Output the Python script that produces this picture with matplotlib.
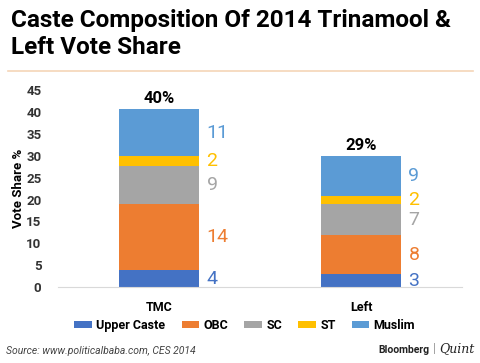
import matplotlib
matplotlib.use("Agg")
import matplotlib.pyplot as plt
from matplotlib.patches import Patch
from matplotlib.lines import Line2D

categories = ["TMC", "Left"]
groups = ["Upper Caste", "OBC", "SC", "ST", "Muslim"]
# bar heights as drawn
values = {
    "Upper Caste": [3.9, 3.0],
    "OBC": [15.1, 8.9],
    "SC": [8.6, 7.0],
    "ST": [2.3, 1.9],
    "Muslim": [10.7, 9.1],
}
# printed labels
labels = {
    "Upper Caste": ["4", "3"],
    "OBC": ["14", "8"],
    "SC": ["9", "7"],
    "ST": ["2", "2"],
    "Muslim": ["11", "9"],
}
totals = ["40%", "29%"]
yticks = [0, 5, 10, 15, 20, 25, 30, 35, 40, 45]

colors = {
    "Upper Caste": "#4472C4",
    "OBC": "#ED7D31",
    "SC": "#A5A5A5",
    "ST": "#FFC000",
    "Muslim": "#5B9BD5",
}

plt.rcParams['font.family'] = ['Roboto', 'DejaVu Sans']

fig = plt.figure(figsize=(4.8, 3.63), dpi=100)
ax = fig.add_axes([0.121, 0.209, 0.9625 - 0.121, 0.752 - 0.209])

x = list(range(len(categories)))
bottoms = [0.0] * len(categories)
for g in groups:
    vals = values[g]
    ax.bar(x, vals, width=0.4, bottom=bottoms, color=colors[g], label=g)
    for i in x:
        mid = bottoms[i] + vals[i] / 2
        ax.text(i + 0.235, mid, labels[g][i], color=colors[g], fontsize=14,
                ha="left", va="center")
    bottoms = [b + v for b, v in zip(bottoms, vals)]

for i in x:
    ax.text(i, bottoms[i] + 0.8, totals[i], ha="center", va="bottom",
            fontsize=12, fontweight="bold", color="black")

ax.set_xlim(-0.5, 1.5)
ax.set_ylim(0, 45)
ax.set_yticks(yticks)
ax.set_yticklabels([str(t) for t in yticks], fontsize=9.5, fontweight="bold", color="#333333")
ax.set_xticks(x)
ax.set_xticklabels(categories, fontsize=9, fontweight="bold", color="black")
ax.tick_params(length=0, pad=12, axis="y")
ax.tick_params(length=0, pad=10, axis="x")
for s in ["top", "right", "left"]:
    ax.spines[s].set_visible(False)
ax.spines["bottom"].set_color("#d9d9d9")
ax.set_ylabel("Vote Share %", fontsize=9.5, fontweight="bold", labelpad=1)

handles = [Patch(facecolor=colors[g], label=g) for g in groups]
fig.legend(handles=handles, loc="center", bbox_to_anchor=(0.51, 0.104), ncol=5,
           frameon=False, handlelength=1.4, handleheight=0.55,
           columnspacing=1.3, handletextpad=0.35,
           prop={"weight": "bold", "size": 9})

fig.text(0.022, 0.975, "Caste Composition Of 2014 Trinamool &\nLeft Vote Share",
         fontsize=17.5, fontweight="bold", va="top", ha="left", linespacing=1.2)
fig.add_artist(Line2D([0.017, 0.985], [0.804, 0.804], color="#f5d5b8", lw=1.2))

fig.text(0.012, 0.02, "Source: www.politicalbaba.com, CES 2014", fontsize=7.5,
         style="italic", color="#444444", va="bottom", ha="left")
fig.text(0.895, 0.022, "Bloomberg", fontsize=7.5, fontweight="bold", color="#222222",
         ha="right", va="bottom")
fig.text(0.906, 0.022, "|", fontsize=9, color="#999999", ha="center", va="bottom")
fig.text(0.915, 0.022, "Quint", fontsize=9, style="italic", family="DejaVu Serif",
         color="#222222", ha="left", va="bottom")

fig.savefig("out.png", dpi=100)
